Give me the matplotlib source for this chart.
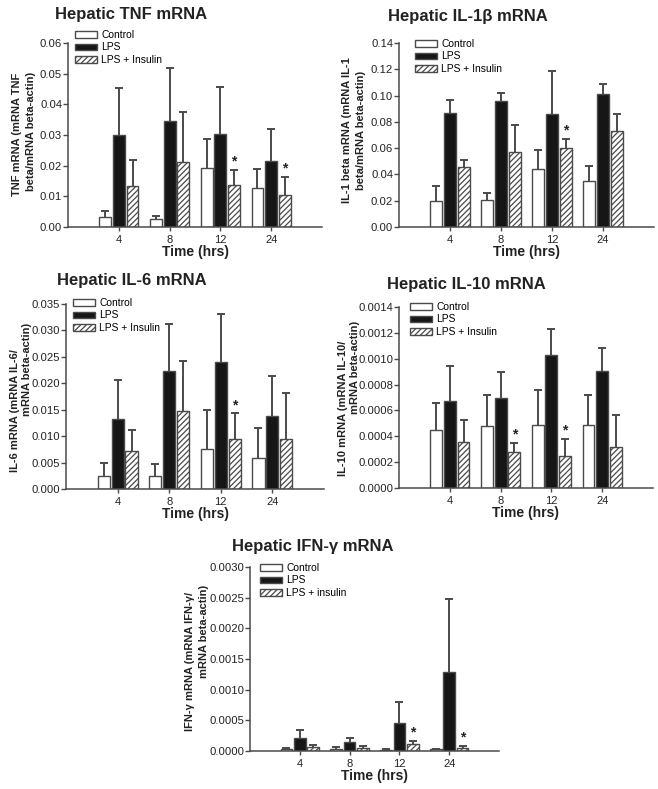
import matplotlib
matplotlib.use("Agg")
import matplotlib.pyplot as plt
import numpy as np
from matplotlib.ticker import FormatStrFormatter

plt.rcParams['font.family'] = ['Liberation Sans', 'DejaVu Sans']
plt.rcParams['hatch.linewidth'] = 0.9

# ---------------- data ----------------
times = ['4', '8', '12', '24']
groups = ['Control', 'LPS', 'LPS + Insulin']

tnf_ctrl = [0.0032, 0.0025, 0.0192, 0.0127]
tnf_ctrl_sem = [0.0019, 0.0012, 0.0095, 0.0062]
tnf_lps = [0.0301, 0.0346, 0.0303, 0.0215]
tnf_lps_sem = [0.0152, 0.0173, 0.0152, 0.0106]
tnf_ins = [0.0133, 0.0212, 0.0137, 0.0104]
tnf_ins_sem = [0.0085, 0.0163, 0.0050, 0.0059]
tnf_sig = [False, False, True, True]

il1_ctrl = [0.0196, 0.0204, 0.0443, 0.0349]
il1_ctrl_sem = [0.0115, 0.0058, 0.0145, 0.0114]
il1_lps = [0.0865, 0.0955, 0.0860, 0.1010]
il1_lps_sem = [0.0105, 0.0068, 0.0324, 0.0077]
il1_ins = [0.0456, 0.0568, 0.0603, 0.0731]
il1_ins_sem = [0.0056, 0.0208, 0.0067, 0.0129]
il1_sig = [False, False, True, False]

il6_ctrl = [0.0025, 0.0025, 0.0075, 0.0059]
il6_ctrl_sem = [0.0024, 0.0022, 0.0075, 0.0057]
il6_lps = [0.0132, 0.0224, 0.0241, 0.0139]
il6_lps_sem = [0.0074, 0.0089, 0.0091, 0.0074]
il6_ins = [0.0071, 0.0147, 0.0095, 0.0094]
il6_ins_sem = [0.0040, 0.0096, 0.0048, 0.0087]
il6_sig = [False, False, True, False]

il10_ctrl = [0.000449, 0.000477, 0.000487, 0.000487]
il10_ctrl_sem = [0.000206, 0.000242, 0.000268, 0.000232]
il10_lps = [0.000675, 0.000693, 0.001031, 0.000905]
il10_lps_sem = [0.000271, 0.000201, 0.000201, 0.000180]
il10_ins = [0.000356, 0.000276, 0.000245, 0.000320]
il10_ins_sem = [0.000172, 0.000072, 0.000136, 0.000244]
il10_sig = [False, True, True, False]

ifn_ctrl = [0.000033, 0.000038, 0.000022, 0.000027]
ifn_ctrl_sem = [0.000016, 0.000033, 0.000008, 0.000008]
ifn_lps = [0.000207, 0.000142, 0.000458, 0.001282]
ifn_lps_sem = [0.000131, 0.000071, 0.000349, 0.001200]
ifn_ins = [0.000060, 0.000049, 0.000115, 0.000044]
ifn_ins_sem = [0.000038, 0.000027, 0.000049, 0.000032]
ifn_sig = [False, False, True, True]

# ---------------- layout (pixels) ----------------
W, H = 658, 789
fig = plt.figure(figsize=(W / 100, H / 100), dpi=100)
GRAY = '#4a4a4a'
TXT = '#222222'


def fx(px):
    return px / W


def fy(py):
    return 1 - py / H


panels = [
    dict(title='Hepatic TNF mRNA', tpos=(131, 15),
         ylab=[('TNF mRNA (mRNA TNF', 17, 134), ('beta/mRNA beta-actin)', 31, 131)],
         box=(68, 322, 43, 227), ylim=0.06, step=0.01, fmt='%.2f',
         leg=(75, 30), ins_label='LPS + Insulin',
         data=(tnf_ctrl, tnf_ctrl_sem, tnf_lps, tnf_lps_sem, tnf_ins, tnf_ins_sem, tnf_sig)),
    dict(title='Hepatic IL-1β mRNA', tpos=(468, 16),
         ylab=[('IL-1 beta mRNA (mRNA IL-1', 347, 130), ('beta/mRNA beta-actin)', 361, 130)],
         box=(399, 654, 43, 227), ylim=0.14, step=0.02, fmt='%.2f',
         leg=(415, 39), ins_label='LPS + Insulin',
         data=(il1_ctrl, il1_ctrl_sem, il1_lps, il1_lps_sem, il1_ins, il1_ins_sem, il1_sig)),
    dict(title='Hepatic IL-6 mRNA', tpos=(132, 281),
         ylab=[('IL-6 mRNA (mRNA IL-6/', 15, 411), ('mRNA beta-actin)', 27, 369)],
         box=(66, 324, 304, 489), ylim=0.035, step=0.005, fmt='%.3f',
         leg=(73, 298), ins_label='LPS + Insulin',
         data=(il6_ctrl, il6_ctrl_sem, il6_lps, il6_lps_sem, il6_ins, il6_ins_sem, il6_sig)),
    dict(title='Hepatic IL-10 mRNA', tpos=(466, 285),
         ylab=[('IL-10 mRNA (mRNA IL-10/', 343, 408), ('mRNA beta-actin)', 355, 367)],
         box=(399, 653, 307, 488), ylim=0.0014, step=0.0002, fmt='%.4f',
         leg=(410, 302), ins_label='LPS + Insulin',
         data=(il10_ctrl, il10_ctrl_sem, il10_lps, il10_lps_sem, il10_ins, il10_ins_sem, il10_sig)),
    dict(title='Hepatic IFN-γ mRNA', tpos=(313, 546),
         ylab=[('IFN-γ mRNA (mRNA IFN-γ/', 190, 661), ('mRNA beta-actin)', 204, 631)],
         box=(250, 499, 567, 751), ylim=0.0030, step=0.0005, fmt='%.4f',
         leg=(260, 563), ins_label='LPS + insulin',
         data=(ifn_ctrl, ifn_ctrl_sem, ifn_lps, ifn_lps_sem, ifn_ins, ifn_ins_sem, ifn_sig)),
]

BW = 0.235
OFF = 0.27

for p in panels:
    l, r, t, b = p['box']
    ax = fig.add_axes([fx(l), fy(b), (r - l) / W, (b - t) / H])
    ctrl, ctrl_sem, lps, lps_sem, ins, ins_sem, sig = p['data']
    x = np.arange(1, len(times) + 1)
    styles = [
        dict(color='white', edgecolor=GRAY, hatch=None),
        dict(color='#161616', edgecolor=GRAY, hatch=None),
        dict(color='white', edgecolor=GRAY, hatch='//////'),
    ]
    labels = ['Control', 'LPS', p['ins_label']]
    series = [(ctrl, ctrl_sem), (lps, lps_sem), (ins, ins_sem)]
    for k, ((m, s), st) in enumerate(zip(series, styles)):
        xs = x + (k - 1) * OFF
        ax.bar(xs, m, width=BW, color=st['color'], edgecolor=st['edgecolor'],
               hatch=st['hatch'], linewidth=1.0, label=labels[k], zorder=2)
        m = np.asarray(m)
        s = np.asarray(s)
        eb = ax.errorbar(xs, m, yerr=[np.zeros_like(s), s], fmt='none',
                         ecolor=GRAY, elinewidth=1.4, capsize=2.6, capthick=1.4,
                         zorder=1)
        caps = eb[1]
        if len(caps) == 2:
            caps[0].set_visible(False)
        if k == 2:
            for xi, mi, si, sg in zip(xs, m, s, sig):
                if sg:
                    ax.annotate('*', (xi, mi + si), xytext=(0, 1),
                                textcoords='offset points', ha='center',
                                va='bottom', fontsize=10, fontweight='bold',
                                color=TXT)
    ax.set_xlim(0, 5)
    ax.set_ylim(0, p['ylim'])
    ax.set_yticks(np.arange(0, p['ylim'] + p['step'] / 2, p['step']))
    ax.yaxis.set_major_formatter(FormatStrFormatter(p['fmt']))
    ax.set_xticks(x)
    ax.set_xticklabels(times)
    for side in ['top', 'right']:
        ax.spines[side].set_visible(False)
    for side in ['left', 'bottom']:
        ax.spines[side].set_color(GRAY)
        ax.spines[side].set_linewidth(1.1)
    ax.tick_params(axis='y', direction='out', length=3.5, width=1.0, color=GRAY,
                   labelsize=8.1, pad=0.8, labelcolor=TXT)
    ax.tick_params(axis='x', direction='out', length=3, width=1.0, color=GRAY,
                   labelsize=8, pad=3, labelcolor=TXT)
    ax.set_xlabel('Time (hrs)', fontsize=10, fontweight='bold', labelpad=0,
                  color=TXT)
    for txt, px, py in p['ylab']:
        fig.text(fx(px), fy(py), txt, rotation=90, ha='center', va='center',
                 fontsize=8, fontweight='bold', color=TXT)
    fig.text(fx(p['tpos'][0]), fy(p['tpos'][1]), p['title'], ha='center',
             va='center', fontsize=12, fontweight='bold', color=TXT)
    lx, ly = p['leg']
    ax.legend(loc='upper left', bbox_to_anchor=(fx(lx), fy(ly)),
              bbox_transform=fig.transFigure, frameon=False, fontsize=7.4,
              borderpad=0, borderaxespad=0, handlelength=2.1,
              handleheight=0.6, handletextpad=0.45, labelspacing=0.24)

fig.savefig('out.png', dpi=100)
